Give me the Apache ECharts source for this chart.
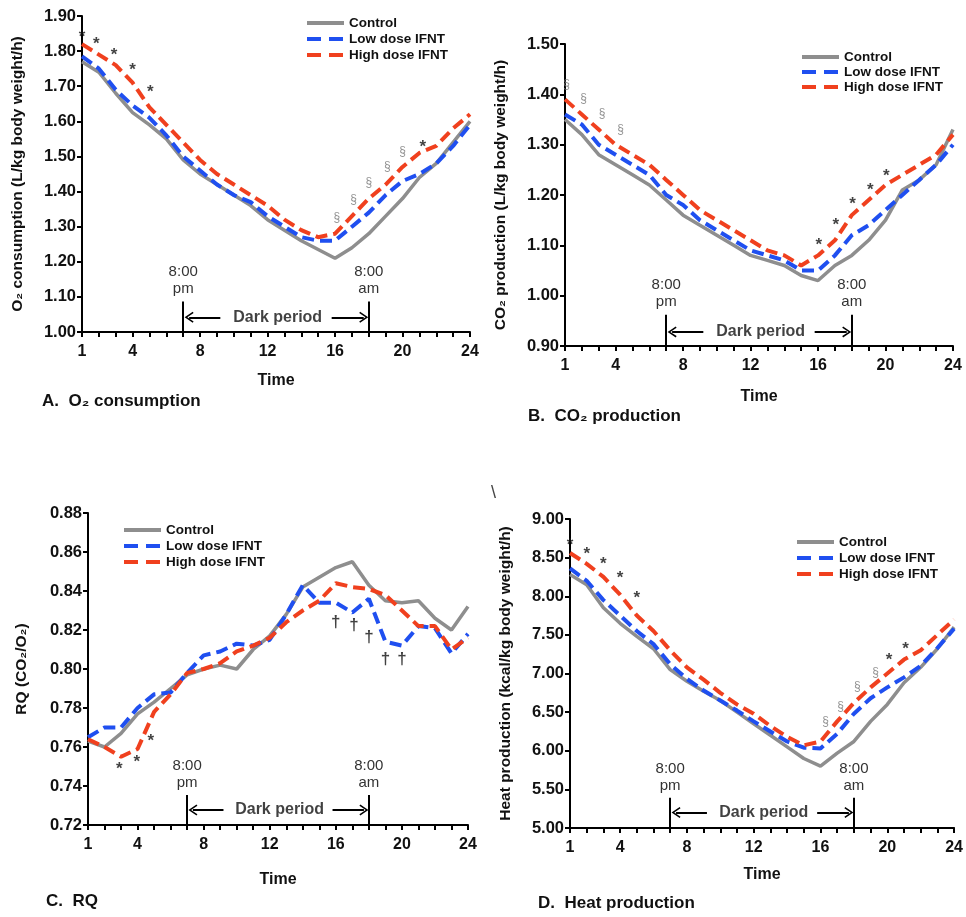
<!DOCTYPE html>
<html>
<head>
<meta charset="utf-8">
<title>IFNT - O2, CO2, RQ, heat production</title>
<script src="https://cdn.jsdelivr.net/npm/echarts@6/dist/echarts.min.js"></script>
<style>
    html, body { margin: 0; padding: 0; background: #fff; }
    #main { width: 966px; height: 917px; }
</style>
</head>
<body>
<div id="main"></div>
<script>
// hours of the day (x axis) and the labelled ticks
var hours = [1, 2, 3, 4, 5, 6, 7, 8, 9, 10, 11, 12, 13, 14, 15, 16, 17, 18, 19, 20, 21, 22, 23, 24];
var xTickLabels = [1, 4, 8, 12, 16, 20, 24];
var seriesNames = ['Control', 'Low dose IFNT', 'High dose IFNT'];

// A. O2 consumption
var o2Control = [1.77, 1.74, 1.68, 1.625, 1.59, 1.55, 1.49, 1.45, 1.42, 1.39, 1.36, 1.32, 1.29, 1.26, 1.235, 1.21, 1.24, 1.28, 1.33, 1.38, 1.44, 1.48, 1.54, 1.60];
var o2Low = [1.785, 1.75, 1.69, 1.645, 1.61, 1.56, 1.50, 1.46, 1.42, 1.39, 1.37, 1.33, 1.30, 1.27, 1.26, 1.26, 1.30, 1.34, 1.39, 1.43, 1.45, 1.48, 1.53, 1.59];
var o2High = [1.82, 1.79, 1.76, 1.71, 1.64, 1.59, 1.54, 1.49, 1.45, 1.42, 1.39, 1.36, 1.32, 1.29, 1.27, 1.28, 1.33, 1.38, 1.42, 1.47, 1.51, 1.53, 1.58, 1.62];
var o2Stars = [[1, 1.85], [1.85, 1.83], [2.9, 1.80], [4, 1.756], [5.05, 1.695], [21.2, 1.538]];
var o2Sections = [[16.1, 1.325], [17.1, 1.377], [18, 1.424], [19.1, 1.47], [20, 1.514]];

// B. CO2 production
var co2Control = [1.35, 1.32, 1.28, 1.26, 1.24, 1.22, 1.19, 1.16, 1.14, 1.12, 1.10, 1.08, 1.07, 1.06, 1.04, 1.03, 1.06, 1.08, 1.11, 1.15, 1.21, 1.23, 1.26, 1.33];
var co2Low = [1.36, 1.34, 1.30, 1.28, 1.26, 1.24, 1.20, 1.18, 1.15, 1.13, 1.11, 1.09, 1.08, 1.07, 1.05, 1.05, 1.08, 1.12, 1.14, 1.17, 1.20, 1.23, 1.26, 1.30];
var co2High = [1.39, 1.36, 1.33, 1.30, 1.28, 1.26, 1.23, 1.20, 1.17, 1.15, 1.13, 1.11, 1.09, 1.08, 1.06, 1.08, 1.11, 1.16, 1.19, 1.22, 1.24, 1.26, 1.28, 1.32];
var co2Stars = [[16.05, 1.107], [17.05, 1.147], [18.05, 1.19], [19.1, 1.217], [20.05, 1.246]];
var co2Sections = [[1.1, 1.42], [2.1, 1.392], [3.2, 1.362], [4.3, 1.329]];

// C. RQ
var rqControl = [0.763, 0.760, 0.767, 0.777, 0.783, 0.790, 0.797, 0.800, 0.802, 0.800, 0.810, 0.817, 0.828, 0.842, 0.847, 0.852, 0.855, 0.843, 0.835, 0.834, 0.835, 0.826, 0.820, 0.832];
var rqLow = [0.765, 0.770, 0.770, 0.780, 0.787, 0.788, 0.798, 0.807, 0.809, 0.813, 0.812, 0.815, 0.828, 0.843, 0.834, 0.834, 0.829, 0.836, 0.814, 0.812, 0.822, 0.821, 0.808, 0.818];
var rqHigh = [0.764, 0.760, 0.755, 0.759, 0.778, 0.787, 0.798, 0.800, 0.803, 0.809, 0.812, 0.816, 0.824, 0.830, 0.835, 0.844, 0.842, 0.841, 0.838, 0.830, 0.822, 0.822, 0.810, 0.816];
var rqStars = [[2.9, 0.7507], [3.95, 0.754], [4.8, 0.765]];
var rqDaggers = [[16, 0.824], [17.1, 0.8225], [18, 0.8165], [19, 0.805], [20, 0.805]];

// D. Heat production
var heatControl = [8.28, 8.15, 7.85, 7.65, 7.48, 7.32, 7.05, 6.90, 6.77, 6.65, 6.50, 6.35, 6.20, 6.05, 5.90, 5.80, 5.97, 6.12, 6.38, 6.60, 6.88, 7.08, 7.32, 7.60];
var heatLow = [8.36, 8.20, 7.95, 7.75, 7.55, 7.38, 7.12, 6.93, 6.78, 6.65, 6.52, 6.38, 6.25, 6.12, 6.04, 6.03, 6.22, 6.48, 6.68, 6.82, 6.95, 7.10, 7.33, 7.58];
var heatHigh = [8.56, 8.42, 8.25, 8.02, 7.75, 7.55, 7.30, 7.08, 6.92, 6.75, 6.60, 6.48, 6.32, 6.18, 6.07, 6.12, 6.38, 6.62, 6.82, 7.00, 7.18, 7.30, 7.50, 7.70];
var heatStars = [[1, 8.71], [2, 8.59], [3, 8.47], [4, 8.28], [5, 8.02], [20.1, 7.22], [21.1, 7.36]];
var heatSections = [[16.3, 6.38], [17.2, 6.57], [18.2, 6.83], [19.3, 7.01]];

var FONT = '"Liberation Sans", Arial, sans-serif';
var colors = ['#8e8e8e', '#1f4ff0', '#f0401e'];
var chevron = 'path://M5,0 L10,9 L8.8,10 L5,3 L1.2,10 L0,9 Z';

// layout of the four panels
var panels = [
    {
        grid: { left: 82, right: 496, top: 16, bottom: 585 },
        y: [1.0, 1.9, 0.1], yName: 'O\u2082 consumption (L/kg body weight/h)', yGap: 56, xGap: 41,
        vTop: 1.087, arrY: 1.042,
        legend: { left: 305, top: 16, itemGap: 2 },
        title: { text: 'A.  O\u2082 consumption', left: 42, top: 393 },
        lines: [o2Control, o2Low, o2High],
        marks: [{ pts: o2Stars, ch: '*' }, { pts: o2Sections, ch: '\u00a7' }]
    },
    {
        grid: { left: 565, right: 13, top: 44, bottom: 571 },
        y: [0.9, 1.5, 0.1], yName: 'CO\u2082 production (L/kg body weight/h)', yGap: 56, xGap: 43,
        vTop: 0.962, arrY: 0.928,
        legend: { left: 800, top: 50, itemGap: 1 },
        title: { text: 'B.  CO\u2082 production', left: 528, top: 408 },
        lines: [co2Control, co2Low, co2High],
        marks: [{ pts: co2Stars, ch: '*' }, { pts: co2Sections, ch: '\u00a7' }]
    },
    {
        grid: { left: 88, right: 498, top: 513, bottom: 92 },
        y: [0.72, 0.88, 0.02], yName: 'RQ (CO\u2082/O\u2082)', yGap: 58, xGap: 47,
        vTop: 0.7354, arrY: 0.7277,
        legend: { left: 122, top: 523, itemGap: 2 },
        title: { text: 'C.  RQ', left: 46, top: 893 },
        lines: [rqControl, rqLow, rqHigh],
        marks: [{ pts: rqStars, ch: '*' }, { pts: rqDaggers, ch: '\u2020' }]
    },
    {
        grid: { left: 570, right: 10, top: 519, bottom: 89 },
        y: [5, 9, 0.5], yName: 'Heat production (kcal/kg body weight/h)', yGap: 56, xGap: 39,
        vTop: 5.39, arrY: 5.20,
        legend: { left: 795, top: 535, itemGap: 2 },
        title: { text: 'D.  Heat production', left: 538, top: 895 },
        lines: [heatControl, heatLow, heatHigh],
        marks: [{ pts: heatStars, ch: '*' }, { pts: heatSections, ch: '\u00a7' }]
    }
];

var markStyle = {
    '*': { fontSize: 17, fontWeight: 'bold', color: '#111', offset: [0, 4] },
    '\u00a7': { fontSize: 12, fontWeight: 'normal', color: '#777', offset: [0, 0] },
    '\u2020': { fontSize: 17, fontWeight: 'bold', color: '#111', offset: [0, 0] }
};

var option = {
    animation: false,
    backgroundColor: '#fff',
    textStyle: { fontFamily: FONT },
    title: [],
    legend: [],
    grid: [],
    xAxis: [],
    yAxis: [],
    series: [],
    graphic: [{
        type: 'text', left: 491, top: 484,
        style: { text: '\\', fontSize: 18, fill: '#444', font: '18px ' + FONT }
    }]
};

panels.forEach(function (p, i) {
    option.grid.push(p.grid);
    option.title.push({
        text: p.title.text, left: p.title.left, top: p.title.top, padding: 0,
        textStyle: { fontFamily: FONT, fontSize: 17, fontWeight: 'bold', color: '#111' }
    });
    option.legend.push({
        data: seriesNames, orient: 'vertical', left: p.legend.left, top: p.legend.top,
        padding: 0, itemGap: p.legend.itemGap, itemWidth: 37, itemHeight: 14,
        selectedMode: false,
        itemStyle: { opacity: 0 },
        lineStyle: { width: 4 },
        textStyle: { fontFamily: FONT, fontSize: 13.5, fontWeight: 'bold', color: '#111' }
    });
    option.xAxis.push({
        gridIndex: i, type: 'value', min: 1, max: 24, interval: 1,
        name: 'Time', nameLocation: 'middle', nameGap: p.xGap,
        nameTextStyle: { fontFamily: FONT, fontSize: 16, fontWeight: 'bold', color: '#111' },
        axisLine: { show: true, lineStyle: { color: '#000', width: 2 } },
        axisTick: { show: true, inside: false, length: 5, lineStyle: { color: '#000', width: 2 } },
        axisLabel: {
            margin: 12, fontFamily: FONT, fontSize: 16, fontWeight: 'bold', color: '#111',
            formatter: function (v) { return xTickLabels.indexOf(v) >= 0 ? String(v) : ''; }
        },
        splitLine: { show: false }
    });
    option.yAxis.push({
        gridIndex: i, type: 'value', min: p.y[0], max: p.y[1], interval: p.y[2],
        name: p.yName, nameLocation: 'middle', nameGap: p.yGap, nameRotate: 90,
        nameTextStyle: { fontFamily: FONT, fontSize: 15.5, fontWeight: 'bold', color: '#111' },
        axisLine: { show: true, lineStyle: { color: '#000', width: 2 } },
        axisTick: { show: true, inside: false, length: 5, lineStyle: { color: '#000', width: 2 } },
        axisLabel: {
            margin: 6, fontFamily: FONT, fontSize: 16.5, fontWeight: 'bold', color: '#111',
            formatter: function (v) { return v.toFixed(2); }
        },
        splitLine: { show: false }
    });

    // the three groups
    p.lines.forEach(function (vals, k) {
        var s = {
            name: seriesNames[k], type: 'line', xAxisIndex: i, yAxisIndex: i,
            data: hours.map(function (h, j) { return [h, vals[j]]; }),
            symbol: 'none', smooth: false, z: 2 + k,
            itemStyle: { color: colors[k] },
            lineStyle: k === 0
                ? { color: colors[k], width: 3.5, type: 'solid' }
                : { color: colors[k], width: 4, type: [12, 6], cap: 'butt' }
        };
        if (k === 0) {
            // 8:00 pm / 8:00 am markers and the dark period arrows
            var yb = p.y[0];
            s.markLine = {
                silent: true, symbol: 'none', animation: false,
                lineStyle: { color: '#000', width: 2, type: 'solid' },
                label: { show: false },
                data: [
                    [{ coord: [7, yb], label: { show: true, position: 'end', distance: 4, formatter: '8:00\npm', fontFamily: FONT, fontSize: 15, lineHeight: 17, color: '#333' } }, { coord: [7, p.vTop] }],
                    [{ coord: [18, yb], label: { show: true, position: 'end', distance: 4, formatter: '8:00\nam', fontFamily: FONT, fontSize: 15, lineHeight: 17, color: '#333' } }, { coord: [18, p.vTop] }],
                    [{ coord: [9.2, p.arrY], symbol: 'none' }, { coord: [7.35, p.arrY], symbol: chevron, symbolSize: [11, 9] }],
                    [{ coord: [15.8, p.arrY], symbol: 'none' }, { coord: [17.7, p.arrY], symbol: chevron, symbolSize: [11, 9] }]
                ]
            };
        }
        option.series.push(s);
    });

    // "Dark period" text
    option.series.push({
        type: 'scatter', xAxisIndex: i, yAxisIndex: i, silent: true,
        symbolSize: 1, itemStyle: { color: 'rgba(0,0,0,0)' },
        data: [[12.6, p.arrY]],
        label: {
            show: true, position: 'inside', formatter: 'Dark period',
            fontFamily: FONT, fontSize: 16, fontWeight: 'bold', color: '#111'
        }
    });

    // significance marks
    p.marks.forEach(function (m) {
        var st = markStyle[m.ch];
        option.series.push({
            type: 'scatter', xAxisIndex: i, yAxisIndex: i, silent: true, z: 10,
            symbolSize: 1, itemStyle: { color: 'rgba(0,0,0,0)' },
            data: m.pts,
            label: {
                show: true, position: 'inside', formatter: m.ch, offset: st.offset,
                fontFamily: FONT, fontSize: st.fontSize, fontWeight: st.fontWeight, color: st.color
            }
        });
    });
});

// legend icons: two long dashes for the dosed groups
option.legend.forEach(function (lg) {
    lg.data = seriesNames.map(function (n, k) {
        return k === 0 ? { name: n } : { name: n, lineStyle: { width: 4, type: [14, 8] } };
    });
});

var chart = echarts.init(document.getElementById('main'), null, { renderer: 'canvas' });
chart.setOption(option);
</script>
</body>
</html>
